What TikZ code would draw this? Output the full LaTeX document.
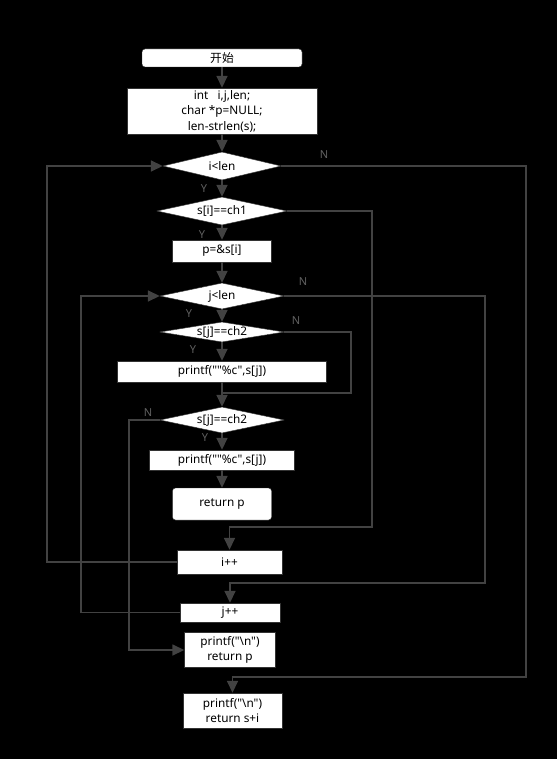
\documentclass[tikz,border=0pt]{standalone}
\usepackage{fontspec}
\setmainfont{Noto Sans}[Ligatures=TeXOff]
\newfontfamily\cjk{Noto Sans CJK SC}
\usetikzlibrary{arrows.meta, shapes.geometric}

\begin{document}
\begin{tikzpicture}[
        x=1pt, y=-1pt,
        every node/.style={font=\fontsize{11.8}{15.5}\selectfont},
        box/.style={rectangle, draw=black!80, fill=white, inner sep=0pt, align=center},
        rbox/.style={box, rounded corners=3pt},
        dec/.style={diamond, draw=black!80, fill=white, inner sep=0pt},
        line/.style={draw=black!74, line width=1.6pt},
        arr/.style={line, -{Triangle[length=12pt, width=11pt]}},
        yn/.style={text=black!62, font=\fontsize{11}{11}\selectfont}
    ]
        \useasboundingbox (0,0) rectangle (557,759);
        \fill[black] (0,0) rectangle (557,759);

        \node[rbox, minimum width=160, minimum height=18] (start) at (222,58) {\cjk 开始};
        \node[box, minimum width=190, minimum height=46] (init) at (222,111) {int\ \ \ i,j,len;\\char *p=NULL;\\len-strlen(s);};
        \node[dec, minimum width=118, minimum height=28, label=center:{i<len}] (d1) at (222,166) {};
        \node[dec, minimum width=130, minimum height=28, label=center:{s[i]==ch1}] (d2) at (222,211) {};
        \node[box, minimum width=99, minimum height=22] (p) at (222,251) {p=\&s[i]};
        \node[dec, minimum width=124, minimum height=26, label=center:{j<len}] (d3) at (222,296) {};
        \node[dec, minimum width=124, minimum height=20, label=center:{s[j]==ch2}] (d4) at (222,332) {};
        \node[box, minimum width=209, minimum height=21] (pf1) at (222,371.5) {printf(""\%c",s[j])};
        \coordinate (m4) at (222,393);
        \node[dec, minimum width=124, minimum height=26, label=center:{s[j]==ch2}] (d5) at (222,420) {};
        \node[box, minimum width=145, minimum height=20] (pf2) at (222,460) {printf(""\%c",s[j])};
        \node[rbox, minimum width=99, minimum height=32] (ret) at (222,504) {return p};
        \node[box, minimum width=105, minimum height=24] (ip) at (229.5,562) {i++};
        \node[box, minimum width=100, minimum height=19] (jp) at (230,612.5) {j++};
        \node[box, minimum width=91, minimum height=35] (r1) at (230,650) {printf("\textbackslash n")\\return p};
        \node[box, minimum width=99, minimum height=35] (r2) at (232.5,710.5) {printf("\textbackslash n")\\return s+i};

        \draw[arr] (start) -- (init);
        \draw[arr] (init) -- (d1);
        \draw[arr] (d1) -- (d2);
        \draw[arr] (d2) -- (p);
        \draw[arr] (p) -- (d3);
        \draw[arr] (d3) -- (d4);
        \draw[arr] (d4) -- (pf1);
        \draw[arr] (pf1) -- (d5);
        \draw[arr] (d5) -- (pf2);
        \draw[arr] (pf2) -- (ret);

        \draw[line] (d4.east) -| (351,393) -- (m4);
        \draw[arr] (d5.west) -| (129,650) -- (r1.west);
        \draw[arr] (d2.east) -| (372,527) -| (ip.north);
        \draw[arr] (d3.east) -| (485,583) -| (jp.north);
        \draw[arr] (d1.east) -| (526,677) -| (r2.north);
        \draw[arr] (ip.west) -| (47,166) -- (d1.west);
        \draw[arr] (jp.west) -| (81,296) -- (d3.west);

        \node[yn] (y1) at (204,189) {Y};
        \node[yn] (n1) at (324,155) {N};
        \node[yn] (y2) at (202,235) {Y};
        \node[yn] (n3) at (303,282) {N};
        \node[yn] (y3) at (189,314) {Y};
        \node[yn] (n4) at (296,321) {N};
        \node[yn] (y4) at (193,350) {Y};
        \node[yn] (n5) at (148,413) {N};
        \node[yn] (y5) at (205,438) {Y};
    \end{tikzpicture}
\end{document}
